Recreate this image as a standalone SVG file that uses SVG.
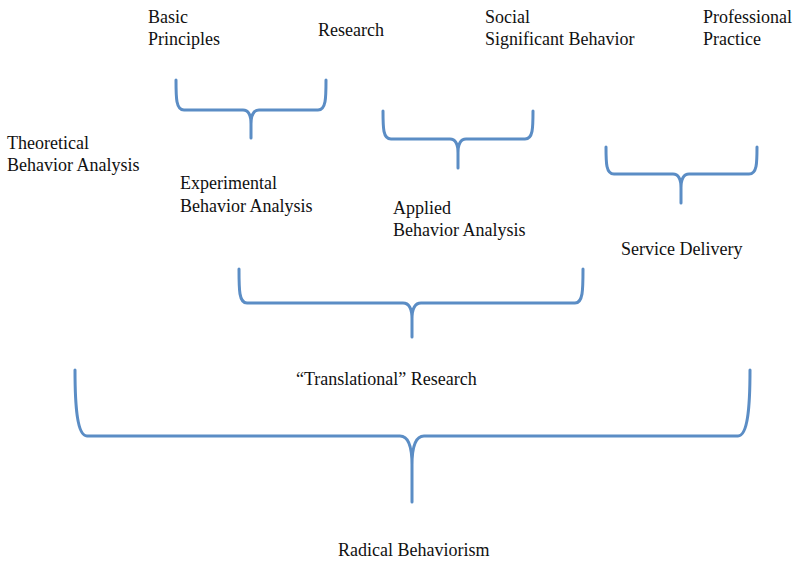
<svg xmlns="http://www.w3.org/2000/svg" width="797" height="561" viewBox="0 0 797 561">
<style>
  .t { font-family: "Liberation Serif", "Times New Roman", serif; font-size: 18px; fill: #111; }
  .br { fill: none; stroke: #5b8dc5; stroke-width: 3; stroke-linecap: round; stroke-linejoin: round; }
</style>
<rect width="797" height="561" fill="#fff"/>
<g id="connectors">
  <path class="br" d="M176,80 C176,98 176,110 184,110 L243,110 C249,110 251,116 251,124 L251,138 M326,80 C326,98 326,110 318,110 L259,110 C253,110 251,116 251,124"/>
  <path class="br" d="M383,111 C383,128 383,139 391,139 L450,139 C456,139 458,145 458,153 L458,168 M533,111 C533,128 533,139 525,139 L466,139 C460,139 458,145 458,153"/>
  <path class="br" d="M606,147 C606,163 606,174 614,174 L673,174 C679,174 681,180 681,188 L681,203 M757,147 C757,163 757,174 749,174 L689,174 C683,174 681,180 681,188"/>
  <path class="br" d="M239,269 C239,290 239,303 247,303 L403,303 C410,303 412,310 412,319 L412,337 M583,269 C583,290 583,303 575,303 L421,303 C414,303 412,310 412,319"/>
  <path class="br" d="M75,370 C75,405 77,436 87,436 L400,436 C409,436 412,448 412,465 L412,502 M750,370 C750,405 748,436 738,436 L424,436 C415,436 412,448 412,465"/>
</g>
<g id="basic-principles"><text class="t" x="148" y="23">Basic</text><text class="t" x="148" y="45">Principles</text></g>
<g id="research"><text class="t" x="318" y="36">Research</text></g>
<g id="social"><text class="t" x="485" y="23">Social</text><text class="t" x="485" y="45">Significant Behavior</text></g>
<g id="professional"><text class="t" x="703" y="23">Professional</text><text class="t" x="703" y="45">Practice</text></g>
<g id="theoretical"><text class="t" x="7" y="149">Theoretical</text><text class="t" x="7" y="171">Behavior Analysis</text></g>
<g id="experimental"><text class="t" x="180" y="189">Experimental</text><text class="t" x="180" y="212">Behavior Analysis</text></g>
<g id="applied"><text class="t" x="393" y="214">Applied</text><text class="t" x="393" y="236">Behavior Analysis</text></g>
<g id="service"><text class="t" x="621" y="255">Service Delivery</text></g>
<g id="translational"><text class="t" x="296" y="385">“Translational” Research</text></g>
<g id="radical"><text class="t" x="338" y="556">Radical Behaviorism</text></g>
</svg>
